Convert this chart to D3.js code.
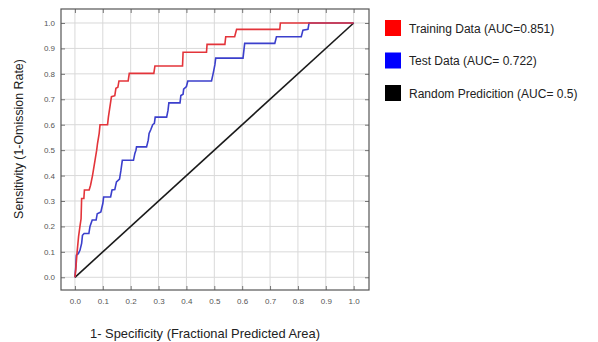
<!DOCTYPE html>
<html>
<head>
<meta charset="utf-8">
<script src="https://cdn.jsdelivr.net/npm/d3@7"></script>
<style>
  html, body { margin: 0; padding: 0; background: #fff; }
  svg { display: block; font-family: "Liberation Sans", Arial, sans-serif; }
</style>
</head>
<body>
<svg id="chart" width="598" height="342"></svg>
<script>
// ROC curve vertices: false positive fraction (x) and sensitivity (y)
const trainFpr = [0, 0.003, 0.007, 0.013, 0.018, 0.022, 0.024, 0.032, 0.034, 0.051, 0.056, 0.063, 0.072,
  0.078, 0.081, 0.087, 0.09, 0.117, 0.12, 0.131, 0.143, 0.147, 0.154, 0.158, 0.191, 0.195, 0.283, 0.287,
  0.386, 0.388, 0.472, 0.474, 0.538, 0.541, 0.573, 0.58, 0.735, 0.737, 1.0];
const trainTpr = [0, 0.03, 0.09, 0.16, 0.2, 0.23, 0.31, 0.31, 0.343, 0.343, 0.362, 0.40, 0.46,
  0.5, 0.526, 0.566, 0.6, 0.6, 0.63, 0.71, 0.714, 0.743, 0.747, 0.772, 0.772, 0.802, 0.802, 0.831,
  0.831, 0.885, 0.885, 0.916, 0.916, 0.946, 0.946, 0.975, 0.975, 1.0, 1.0];

const testFpr = [0, 0.003, 0.005, 0.012, 0.018, 0.024, 0.027, 0.033, 0.05, 0.054, 0.062, 0.076, 0.08,
  0.093, 0.1, 0.103, 0.128, 0.133, 0.143, 0.149, 0.16, 0.165, 0.17, 0.21, 0.215, 0.219, 0.221, 0.257,
  0.263, 0.266, 0.272, 0.279, 0.285, 0.288, 0.329, 0.334, 0.337, 0.377, 0.38, 0.388, 0.39, 0.4, 0.405,
  0.49, 0.496, 0.502, 0.505, 0.603, 0.609, 0.717, 0.723, 0.812, 0.818, 0.836, 0.84, 1.0];
const testTpr = [0, 0.04, 0.087, 0.093, 0.106, 0.133, 0.165, 0.172, 0.172, 0.2, 0.225, 0.225, 0.25,
  0.257, 0.29, 0.316, 0.316, 0.343, 0.345, 0.375, 0.386, 0.42, 0.46, 0.46, 0.487, 0.5, 0.513, 0.513,
  0.539, 0.566, 0.58, 0.6, 0.605, 0.63, 0.63, 0.657, 0.686, 0.686, 0.715, 0.72, 0.74, 0.75, 0.772,
  0.772, 0.802, 0.835, 0.862, 0.862, 0.92, 0.92, 0.946, 0.946, 0.972, 0.975, 1.0, 1.0];

const randomFpr = [0, 1];
const randomTpr = [0, 1];

const tickValues = [0, 0.1, 0.2, 0.3, 0.4, 0.5, 0.6, 0.7, 0.8, 0.9, 1.0];

const legendLabels = ["Training Data (AUC=0.851)", "Test Data (AUC= 0.722)", "Random Predicition (AUC= 0.5)"];
const legendColors = ["#ff0000", "#0000ff", "#000000"];
const lineColors = ["#e3343a", "#3b3fcc", "#1a1a1a"];

const svg = d3.select("#chart");

const plot = { left: 61, top: 9, right: 369, bottom: 290 };
const x = d3.scaleLinear().domain([-0.05, 1.055]).range([plot.left, plot.right]);
const y = d3.scaleLinear().domain([-0.05, 1.055]).range([plot.bottom, plot.top]);

// grid
const grid = svg.append("g");
grid.selectAll("line.vx").data(tickValues).join("line")
  .attr("x1", d => x(d)).attr("x2", d => x(d))
  .attr("y1", plot.top).attr("y2", plot.bottom)
  .attr("stroke", "#d9d9d9").attr("stroke-width", 1);
grid.selectAll("line.hy").data(tickValues).join("line")
  .attr("x1", plot.left).attr("x2", plot.right)
  .attr("y1", d => y(d)).attr("y2", d => y(d))
  .attr("stroke", "#d9d9d9").attr("stroke-width", 1);

// axes with inward ticks on all four sides
const fmt = d3.format(".1f");
const axB = svg.append("g").attr("transform", `translate(0,${plot.bottom})`)
  .call(d3.axisBottom(x).tickValues(tickValues).tickFormat(fmt).tickSizeInner(-4).tickSizeOuter(0).tickPadding(8));
const axL = svg.append("g").attr("transform", `translate(${plot.left},0)`)
  .call(d3.axisLeft(y).tickValues(tickValues).tickFormat(fmt).tickSizeInner(-4).tickSizeOuter(0).tickPadding(6));
const axT = svg.append("g").attr("transform", `translate(0,${plot.top})`)
  .call(d3.axisTop(x).tickValues(tickValues).tickFormat("").tickSizeInner(-4).tickSizeOuter(0));
const axR = svg.append("g").attr("transform", `translate(${plot.right},0)`)
  .call(d3.axisRight(y).tickValues(tickValues).tickFormat("").tickSizeInner(-4).tickSizeOuter(0));

[axB, axL, axT, axR].forEach(a => {
  a.select(".domain").remove();
  a.selectAll(".tick line").attr("stroke", "#777");
  a.selectAll(".tick text").attr("fill", "#555").attr("font-size", 8)
    .attr("font-family", "'Liberation Sans', Arial, sans-serif");
});

// frame
svg.append("rect")
  .attr("x", plot.left).attr("y", plot.top)
  .attr("width", plot.right - plot.left).attr("height", plot.bottom - plot.top)
  .attr("fill", "none").attr("stroke", "#555").attr("stroke-width", 1.2);

// curves
const line = d3.line().x(d => x(d[0])).y(d => y(d[1]));
const series = [
  d3.zip(randomFpr, randomTpr),
  d3.zip(testFpr, testTpr),
  d3.zip(trainFpr, trainTpr)
];
const seriesColors = [lineColors[2], lineColors[1], lineColors[0]];
svg.append("g").selectAll("path").data(series).join("path")
  .attr("d", line)
  .attr("fill", "none")
  .attr("stroke", (d, i) => seriesColors[i])
  .attr("stroke-width", 1.6)
  .attr("stroke-linejoin", "miter");

// axis titles
svg.append("text")
  .attr("transform", "translate(23,139) rotate(-90)")
  .attr("text-anchor", "middle")
  .attr("font-size", 12.4).attr("fill", "#222")
  .text("Sensitivity (1-Omission Rate)");
svg.append("text")
  .attr("x", 205).attr("y", 338)
  .attr("text-anchor", "middle")
  .attr("font-size", 12.9).attr("fill", "#222")
  .text("1- Specificity (Fractional Predicted Area)");

// legend
const legend = svg.append("g").attr("transform", "translate(385,20)");
const items = legend.selectAll("g").data(legendLabels).join("g")
  .attr("transform", (d, i) => `translate(0,${i * 32.5})`);
items.append("rect").attr("width", 16).attr("height", 16)
  .attr("fill", (d, i) => legendColors[i]);
items.append("text").attr("x", 24).attr("y", 12.5)
  .attr("font-size", 12).attr("fill", "#222")
  .text(d => d);
</script>
</body>
</html>
